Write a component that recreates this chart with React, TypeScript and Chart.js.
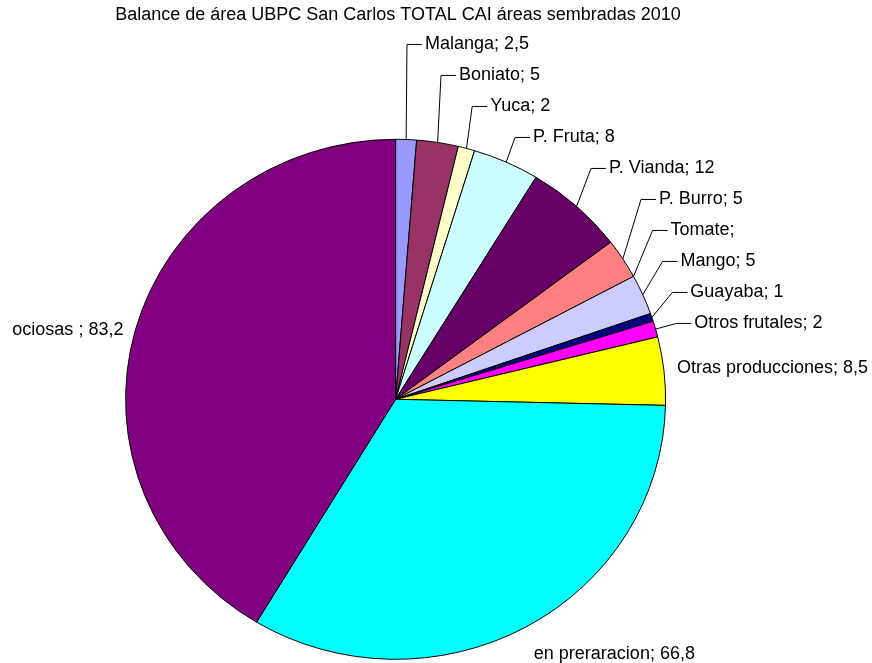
import { useEffect, useRef } from "react";
import { Chart, registerables } from "chart.js";

Chart.register(...registerables);

const TITLE = "Balance de área UBPC San Carlos TOTAL CAI áreas sembradas 2010";

const categories: string[] = [
  "Malanga",
  "Boniato",
  "Yuca",
  "P. Fruta",
  "P. Vianda",
  "P. Burro",
  "Tomate",
  "Mango",
  "Guayaba",
  "Otros frutales",
  "Otras producciones",
  "en preraracion",
  "ociosas ",
];

const areas: (number | null)[] = [2.5, 5, 2, 8, 12, 5, null, 5, 1, 2, 8.5, 66.8, 83.2];

const sliceColors: string[] = [
  "#9999FF",
  "#993366",
  "#FFFFCC",
  "#CCFFFF",
  "#660066",
  "#FF8080",
  "#0066CC",
  "#CCCCFF",
  "#000080",
  "#FF00FF",
  "#FFFF00",
  "#00FFFF",
  "#800080",
];

const FONT = '18px "Liberation Sans", Arial, sans-serif';
const W = 872;
const H = 663;
const CX = 395.6;
const R = 270;
const CY_CHART = 380;
const CY_TARGET = 399.3;
const Y_SCALE = 260 / 270;
const LABEL_R = 1.08;
const LABEL_GAP = 31;

function fmt(v: number | null): string {
  if (v === null || v === undefined) return "";
  return String(v).replace(".", ",");
}

const ellipsePlugin = {
  id: "ellipseAndLabels",
  beforeDatasetsDraw(chart: any) {
    const arc = chart.getDatasetMeta(0).data[0];
    if (!arc) return;
    const { x, y } = arc.getProps(["x", "y"], true);
    const ctx = chart.ctx;
    ctx.save();
    ctx.translate(x, CY_TARGET);
    ctx.scale(1, Y_SCALE);
    ctx.translate(-x, -y);
  },
  afterDatasetsDraw(chart: any) {
    const ctx: CanvasRenderingContext2D = chart.ctx;
    ctx.restore();

    const meta = chart.getDatasetMeta(0);
    const total = areas.reduce((s: number, v) => s + (v || 0), 0);
    const items = meta.data.map((arc: any, i: number) => {
      const p = arc.getProps(["x", "startAngle", "endAngle", "outerRadius"], true);
      const th = (p.startAngle + p.endAngle) / 2;
      const ux = Math.cos(th);
      const uy = Math.sin(th);
      const rx = p.outerRadius;
      const ry = p.outerRadius * Y_SCALE;
      return {
        i,
        th,
        ux,
        uy,
        edgeX: p.x + rx * ux,
        edgeY: CY_TARGET + ry * uy,
        natX: p.x + LABEL_R * rx * ux,
        natY: CY_TARGET + LABEL_R * ry * uy,
        adjY: CY_TARGET + LABEL_R * ry * uy,
        share: (areas[i] || 0) / total,
      };
    });

    // stack upper-right labels from bottom to top
    const upperRight = items
      .filter((it: any) => it.ux > 0 && it.uy < 0)
      .sort((a: any, b: any) => b.th - a.th);
    let prev = Infinity;
    for (const it of upperRight) {
      it.adjY = Math.min(it.natY, prev - LABEL_GAP);
      prev = it.adjY;
    }

    ctx.save();
    ctx.font = FONT;
    ctx.fillStyle = "#000";
    ctx.strokeStyle = "#000";
    ctx.lineWidth = 1;

    for (const it of items) {
      const text = `${categories[it.i]}; ${fmt(areas[it.i])}`.trimEnd();
      const leader = it.natY - it.adjY > 1 || it.share < 0.02;
      const right = it.ux >= 0;
      if (leader) {
        const hx = right ? it.natX + 15 : it.natX - 15;
        ctx.beginPath();
        ctx.moveTo(it.edgeX, it.edgeY);
        ctx.lineTo(it.natX, it.adjY);
        ctx.lineTo(hx, it.adjY);
        ctx.stroke();
        ctx.textAlign = right ? "left" : "right";
        ctx.textBaseline = "middle";
        ctx.fillText(text, right ? it.natX + 18 : it.natX - 18, it.adjY);
      } else {
        const side = Math.abs(it.ux) > 0.7;
        if (side) {
          ctx.textAlign = right ? "left" : "right";
          ctx.textBaseline = "middle";
          ctx.fillText(text, right ? it.edgeX + 13 : it.edgeX - 12, it.edgeY - (right ? 3 : 0));
        } else {
          const below = it.uy > 0;
          ctx.textAlign = right ? "left" : "right";
          ctx.textBaseline = below ? "top" : "bottom";
          ctx.fillText(
            text,
            right ? it.edgeX + 8 : it.edgeX - 8,
            below ? it.edgeY + 18 : it.edgeY - 18
          );
        }
      }
    }

    // title
    ctx.textAlign = "center";
    ctx.textBaseline = "middle";
    ctx.fillText(TITLE, 398, 15);
    ctx.restore();
  },
};

export default function App() {
  const canvasRef = useRef<HTMLCanvasElement | null>(null);

  useEffect(() => {
    if (!canvasRef.current) return;
    const chart = new Chart(canvasRef.current, {
      type: "pie",
      data: {
        labels: categories,
        datasets: [
          {
            data: areas as any,
            backgroundColor: sliceColors,
            borderColor: "#000000",
            borderWidth: 1,
            radius: R,
          } as any,
        ],
      },
      options: {
        responsive: false,
        animation: false,
        devicePixelRatio: 1,
        layout: {
          padding: {
            left: CX - R,
            right: W - (CX + R),
            top: CY_CHART - R,
            bottom: H - (CY_CHART + R),
          },
        },
        plugins: {
          legend: { display: false },
          tooltip: { enabled: false },
          title: { display: false },
        },
        events: [],
      },
      plugins: [ellipsePlugin],
    });
    return () => chart.destroy();
  }, []);

  return (
    <div style={{ position: "absolute", left: 0, top: 0, width: W, height: H, background: "#fff" }}>
      <canvas ref={canvasRef} width={W} height={H} style={{ display: "block" }} />
    </div>
  );
}
